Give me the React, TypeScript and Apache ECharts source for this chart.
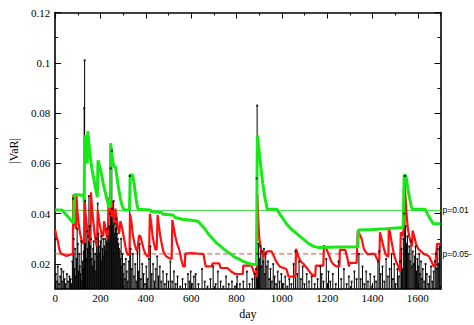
import React, { useEffect, useRef } from "react";
import * as echarts from "echarts";

// ---- data ----
const greenDays = [0,30,40,50,60,70,82,84,100,126,128,130,134,138,142,144,150,156,162,170,178,186,189,196,204,212,220,228,236,243,245,250,256,262,266,272,280,288,296,304,328,331,342,348,354,360,366,420,424,470,474,520,530,560,600,630,645,660,675,690,710,730,750,770,790,810,830,850,870,888,892,900,908,916,924,932,936,978,990,1005,1020,1040,1060,1080,1100,1120,1140,1165,1250,1335,1338,1400,1460,1535,1540,1548,1556,1564,1572,1578,1632,1645,1658,1668,1700];
const greenVals = [0.0415,0.0415,0.0405,0.0395,0.0385,0.0372,0.0362,0.0475,0.0475,0.0472,0.0445,0.0712,0.066,0.062,0.06,0.0728,0.067,0.062,0.058,0.054,0.05,0.0465,0.0612,0.059,0.056,0.052,0.049,0.046,0.043,0.0425,0.068,0.064,0.06,0.0585,0.0588,0.055,0.05,0.046,0.043,0.0415,0.0415,0.0555,0.0553,0.052,0.048,0.044,0.0418,0.0415,0.0408,0.0405,0.0398,0.0395,0.0385,0.0378,0.0374,0.037,0.0355,0.034,0.032,0.0305,0.0285,0.027,0.0255,0.0242,0.0228,0.022,0.021,0.0203,0.0198,0.0198,0.0712,0.065,0.058,0.052,0.047,0.0435,0.0418,0.0418,0.04,0.038,0.036,0.034,0.0325,0.031,0.0295,0.028,0.027,0.0265,0.0267,0.0268,0.0335,0.0337,0.034,0.0345,0.0555,0.0548,0.05,0.046,0.0425,0.0418,0.0418,0.0395,0.0375,0.036,0.036];

const redDays = [0,6,12,18,24,35,50,60,72,78,80,84,88,92,94,98,104,110,118,124,128,130,134,140,146,152,156,158,162,168,174,180,184,188,194,200,206,212,216,222,228,232,236,240,246,250,254,258,262,266,270,276,282,288,294,300,306,312,318,324,328,330,336,342,350,358,364,370,376,382,390,398,408,414,418,424,430,436,443,448,452,458,464,470,478,490,505,514,517,522,530,538,548,556,565,572,574,600,630,654,664,690,695,724,730,760,776,795,828,830,866,876,884,890,892,896,900,906,912,920,928,935,955,965,975,990,1005,1020,1030,1040,1060,1063,1072,1084,1096,1110,1130,1147,1150,1183,1186,1194,1206,1218,1226,1240,1254,1256,1280,1290,1296,1300,1330,1335,1342,1352,1362,1372,1380,1390,1410,1420,1430,1433,1440,1448,1457,1466,1470,1472,1478,1486,1494,1504,1514,1521,1525,1532,1538,1542,1546,1550,1556,1562,1568,1574,1577,1584,1592,1602,1614,1626,1640,1650,1660,1670,1676,1685,1700];
const redVals = [0.0335,0.031,0.029,0.026,0.0242,0.0238,0.0232,0.0235,0.0238,0.0238,0.0475,0.04,0.036,0.034,0.0475,0.041,0.036,0.032,0.029,0.028,0.0285,0.046,0.04,0.035,0.031,0.029,0.03,0.0485,0.043,0.037,0.032,0.0285,0.027,0.0415,0.037,0.034,0.0315,0.031,0.037,0.034,0.031,0.03,0.0465,0.043,0.039,0.045,0.041,0.038,0.036,0.042,0.039,0.035,0.032,0.037,0.035,0.032,0.029,0.026,0.024,0.0235,0.024,0.04,0.037,0.032,0.028,0.0256,0.0258,0.0314,0.031,0.029,0.026,0.024,0.0229,0.023,0.04,0.036,0.031,0.028,0.0256,0.026,0.0395,0.035,0.031,0.028,0.0248,0.023,0.0222,0.022,0.0375,0.035,0.031,0.028,0.0256,0.022,0.019,0.019,0.0241,0.0243,0.0241,0.024,0.019,0.019,0.0202,0.0202,0.0184,0.0184,0.017,0.016,0.016,0.0193,0.0193,0.017,0.015,0.015,0.0477,0.038,0.0307,0.027,0.0241,0.023,0.0245,0.025,0.025,0.023,0.021,0.019,0.0185,0.018,0.0149,0.015,0.015,0.026,0.023,0.021,0.02,0.0184,0.016,0.015,0.0193,0.0193,0.0274,0.0265,0.024,0.021,0.02,0.019,0.019,0.0256,0.0256,0.022,0.019,0.0204,0.0204,0.0333,0.032,0.03,0.026,0.0245,0.0238,0.024,0.024,0.022,0.021,0.0326,0.03,0.027,0.024,0.023,0.023,0.0346,0.032,0.028,0.024,0.021,0.019,0.017,0.0326,0.031,0.034,0.052,0.046,0.04,0.034,0.031,0.029,0.027,0.0333,0.031,0.028,0.026,0.025,0.024,0.0235,0.023,0.021,0.019,0.019,0.028,0.028];

const blackDays = [3,8,12,17,22,27,31,36,41,46,52,57,63,68,72,76,79,82,85,88,91,94,97,100,103,106,109,112,115,118,121,124,126,128,130,132,134,137,140,143,146,149,152,155,158,161,164,167,170,173,176,179,182,185,188,191,194,197,200,203,206,209,212,215,218,221,224,227,230,233,236,239,242,245,248,250,252,255,258,261,264,267,270,273,276,279,282,285,288,291,294,297,300,304,308,312,316,320,325,329,333,338,343,348,353,358,363,368,373,378,384,390,396,402,408,414,420,426,432,438,444,450,456,462,468,476,484,492,500,508,516,524,532,540,552,562,575,586,592,598,604,612,620,632,648,660,672,685,697,708,718,730,742,754,766,780,793,803,815,830,846,858,870,880,886,889,891,893,897,901,905,909,913,917,921,925,929,934,939,944,950,956,962,968,975,982,990,998,1006,1015,1024,1033,1042,1052,1060,1068,1076,1084,1092,1100,1110,1120,1132,1145,1158,1170,1176,1184,1196,1206,1214,1225,1238,1250,1262,1274,1286,1296,1308,1320,1330,1340,1348,1356,1364,1372,1380,1390,1398,1408,1416,1424,1430,1436,1444,1452,1460,1468,1476,1484,1490,1496,1502,1510,1516,1522,1528,1532,1536,1540,1543,1546,1550,1554,1558,1562,1566,1570,1574,1578,1582,1586,1590,1594,1598,1602,1606,1610,1614,1618,1622,1628,1634,1640,1646,1652,1658,1664,1670,1676,1680,1684,1688,1692,1696];
const blackVals = [0.016,0.013,0.019,0.012,0.015,0.018,0.013,0.017,0.014,0.012,0.016,0.013,0.015,0.014,0.012,0.021,0.046,0.03,0.018,0.026,0.015,0.022,0.034,0.028,0.017,0.024,0.019,0.016,0.029,0.013,0.021,0.018,0.025,0.082,0.101,0.045,0.028,0.022,0.033,0.026,0.031,0.047,0.035,0.027,0.03,0.022,0.019,0.026,0.029,0.021,0.024,0.017,0.03,0.023,0.044,0.032,0.027,0.024,0.029,0.031,0.021,0.026,0.03,0.023,0.027,0.03,0.025,0.029,0.034,0.028,0.031,0.035,0.04,0.058,0.038,0.065,0.042,0.035,0.045,0.032,0.036,0.034,0.038,0.032,0.03,0.028,0.026,0.025,0.022,0.03,0.019,0.024,0.016,0.02,0.014,0.022,0.017,0.013,0.021,0.055,0.026,0.018,0.024,0.015,0.02,0.013,0.025,0.017,0.028,0.014,0.02,0.016,0.012,0.019,0.014,0.022,0.027,0.016,0.02,0.013,0.018,0.023,0.015,0.019,0.013,0.017,0.012,0.016,0.013,0.021,0.013,0.017,0.012,0.015,0.011,0.014,0.012,0.016,0.013,0.017,0.012,0.015,0.016,0.012,0.018,0.013,0.011,0.014,0.019,0.012,0.017,0.013,0.011,0.015,0.012,0.013,0.011,0.015,0.012,0.013,0.017,0.012,0.014,0.016,0.018,0.054,0.083,0.024,0.028,0.022,0.027,0.019,0.025,0.021,0.026,0.016,0.024,0.019,0.021,0.014,0.018,0.013,0.02,0.015,0.012,0.017,0.013,0.016,0.012,0.015,0.011,0.014,0.012,0.02,0.025,0.016,0.021,0.014,0.019,0.012,0.016,0.013,0.015,0.012,0.014,0.019,0.016,0.013,0.022,0.017,0.013,0.016,0.012,0.021,0.014,0.018,0.012,0.015,0.013,0.017,0.014,0.024,0.014,0.019,0.012,0.017,0.013,0.016,0.011,0.015,0.013,0.021,0.025,0.016,0.019,0.013,0.022,0.015,0.018,0.024,0.014,0.02,0.012,0.018,0.015,0.021,0.026,0.018,0.03,0.04,0.055,0.035,0.028,0.031,0.024,0.027,0.021,0.029,0.019,0.025,0.02,0.023,0.027,0.017,0.022,0.019,0.024,0.016,0.021,0.014,0.018,0.013,0.02,0.016,0.012,0.015,0.019,0.013,0.017,0.021,0.024,0.018,0.026,0.02,0.027];

const xMajor = [0, 200, 400, 600, 800, 1000, 1200, 1400, 1600];
const xMinor = [100, 300, 500, 700, 900, 1100, 1300, 1500, 1700];
const yMajor = [0.02, 0.04, 0.06, 0.08, 0.1, 0.12];
const yMinor = [0.03, 0.05, 0.07, 0.09, 0.11];

const levelDays = [0, 1700];
const level01 = 0.0413;
const level05 = 0.024;
const label01 = "p=0.01";
const label05 = "p=0.05-";

const zip = (a: number[], b: number[]) => a.map((d, i) => [d, b[i]]);

const SERIF = "'Liberation Serif', 'Times New Roman', Times, serif";
const SANS = "'Liberation Sans', Arial, sans-serif";
const FS = 11;

export default function App() {
  const ref = useRef<HTMLDivElement>(null);
  useEffect(() => {
    if (!ref.current) return;
    const chart = echarts.init(ref.current, undefined, { renderer: "svg" });
    const line = { show: true, onZero: false, lineStyle: { color: "#000", width: 1.6 } };
    const noLine = { show: false, onZero: false };
    const xBase = { type: "value", min: 0, max: 1700, splitLine: { show: false } };
    const yBase = { type: "value", min: 0.01, max: 0.12, splitLine: { show: false } };
    const tick = (vals: number[], len: number) => ({
      show: true, inside: true, length: len, customValues: vals,
      lineStyle: { color: "#000", width: 1 },
    });
    const levelSeries = (val: number, text: string, color: string, type: any) => ({
      type: "line", xAxisIndex: 0, yAxisIndex: 0, z: 1, silent: true,
      data: levelDays.map((d) => [d, val]), showSymbol: false,
      lineStyle: { color, width: 1, type },
      itemStyle: { color },
      endLabel: {
        show: true, formatter: text, distance: 2,
        color: "#000", fontFamily: SANS, fontSize: 8.5,
      },
    });
    chart.setOption({
      animation: false,
      backgroundColor: "#fff",
      grid: { left: 38.5, right: 33.5, top: 12.5, bottom: 33, containLabel: false },
      xAxis: [
        {
          ...xBase, position: "bottom", axisLine: line, axisTick: tick(xMajor, 6),
          axisLabel: {
            customValues: xMajor, color: "#000", fontFamily: SERIF, fontSize: FS, margin: 3,
            formatter: (v: number) => String(v),
          },
          name: "day", nameLocation: "middle", nameGap: 15,
          nameTextStyle: { color: "#000", fontFamily: SERIF, fontSize: FS + 1 },
        },
        { ...xBase, position: "bottom", axisLine: noLine, axisTick: tick(xMinor, 3), axisLabel: { show: false } },
        { ...xBase, position: "top", axisLine: line, axisTick: tick(xMajor, 6), axisLabel: { show: false } },
        { ...xBase, position: "top", axisLine: noLine, axisTick: tick(xMinor, 3), axisLabel: { show: false } },
      ],
      yAxis: [
        {
          ...yBase, position: "left", axisLine: line, axisTick: tick(yMajor, 6),
          axisLabel: {
            customValues: yMajor, color: "#000", fontFamily: SERIF, fontSize: FS, margin: 5,
            formatter: (v: number) => String(Math.round(v * 100) / 100),
          },
          name: "|VaR|", nameLocation: "middle", nameGap: 25,
          nameTextStyle: { color: "#000", fontFamily: SERIF, fontSize: FS + 1 },
        },
        { ...yBase, position: "left", axisLine: noLine, axisTick: tick(yMinor, 3), axisLabel: { show: false } },
        { ...yBase, position: "right", axisLine: line, axisTick: tick(yMajor, 6), axisLabel: { show: false } },
        { ...yBase, position: "right", axisLine: noLine, axisTick: tick(yMinor, 3), axisLabel: { show: false } },
      ],
      series: [
        levelSeries(level01, label01, "#3ddc3d", "solid"),
        levelSeries(level05, label05, "#ee4444", [5, 3]),
        {
          type: "bar", xAxisIndex: 0, yAxisIndex: 0, barWidth: 1, z: 2,
          data: zip(blackDays, blackVals),
          itemStyle: { color: "#000" },
        },
        {
          type: "line", xAxisIndex: 0, yAxisIndex: 0, z: 3,
          data: zip(redDays, redVals), showSymbol: false,
          lineStyle: { color: "#ff1010", width: 2.2 }, itemStyle: { color: "#ff1010" },
        },
        {
          type: "line", xAxisIndex: 0, yAxisIndex: 0, z: 4,
          data: zip(greenDays, greenVals), showSymbol: false,
          lineStyle: { color: "#18e818", width: 3 }, itemStyle: { color: "#18e818" },
        },
        {
          type: "scatter", xAxisIndex: 0, yAxisIndex: 0, z: 5,
          data: zip(blackDays, blackVals), symbol: "rect", symbolSize: 2,
          itemStyle: { color: "#000" },
        },
      ],
    });
    return () => chart.dispose();
  }, []);
  return (
    <div
      ref={ref}
      style={{ position: "fixed", left: 0, top: 0, width: 474, height: 325, background: "#fff" }}
    />
  );
}
